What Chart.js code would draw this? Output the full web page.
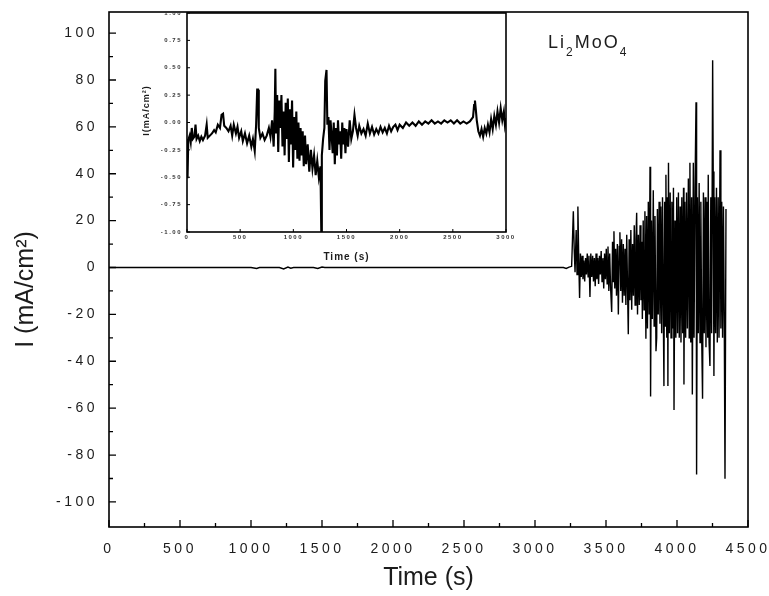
<!DOCTYPE html>
<html>
<head>
<meta charset="utf-8">
<script src="https://cdn.jsdelivr.net/npm/chart.js@4.4.1/dist/chart.umd.min.js"></script>
<style>
  html, body { margin: 0; padding: 0; background: #fff; }
  #wrap { position: relative; width: 769px; height: 596px; }
  #mainChart { position: absolute; left: 0; top: 0; }
  #insetChart { position: absolute; left: 135px; top: 5px; }
</style>
</head>
<body>
<div id="wrap">
  <canvas id="mainChart" width="769" height="596"></canvas>
  <canvas id="insetChart" width="385" height="270"></canvas>
</div>
<script>
// main trace: time (s) and current density (mA/cm2)
const mainTime = [
  0, 1000, 1040, 1060, 1200, 1230, 1260, 1280, 1300, 1440, 1470, 1500, 1520, 3200, 3220, 3240,
  3258, 3264, 3270, 3276, 3282, 3290, 3296, 3302, 3308, 3314, 3320, 3326, 3332, 3338, 3344, 3350,
  3356, 3362, 3368, 3374, 3380, 3387, 3393, 3400, 3406, 3412, 3418, 3424, 3430, 3436, 3442, 3448,
  3454, 3460, 3466, 3472, 3478, 3484, 3490, 3496, 3502, 3508, 3514, 3520, 3526, 3532, 3540, 3546,
  3552, 3556, 3562, 3568, 3574, 3580, 3587, 3593, 3598, 3604, 3610, 3616, 3622, 3628, 3634, 3640,
  3646, 3652, 3657, 3663, 3669, 3675, 3681, 3687, 3693, 3699, 3705, 3711, 3716, 3722, 3728, 3734,
  3740, 3746, 3751, 3756, 3762, 3768, 3774, 3781, 3786, 3792, 3798, 3804, 3810, 3814, 3820, 3826,
  3833, 3839, 3845, 3852, 3857, 3862, 3868, 3874, 3880, 3886, 3892, 3898, 3904, 3908, 3913, 3918,
  3922, 3928, 3932, 3936, 3940, 3946, 3952, 3958, 3964, 3970, 3975, 3979, 3986, 3992, 3998, 4004,
  4010, 4016, 4022, 4028, 4034, 4040, 4046, 4049, 4055, 4061, 4067, 4073, 4080, 4086, 4091, 4097,
  4103, 4108, 4115, 4120, 4127, 4134, 4138, 4144, 4150, 4156, 4162, 4168, 4174, 4180, 4186, 4192,
  4198, 4204, 4210, 4216, 4220, 4226, 4232, 4238, 4244, 4251, 4255, 4260, 4266, 4272, 4278, 4284,
  4290, 4296, 4303, 4309, 4315, 4321, 4327, 4333, 4338, 4345
];
const mainCurrent = [
  0, 0, -0.4, 0, 0, -0.6, 0.2, -0.3, 0, 0, -0.4, 0.2, 0, 0, -0.4, 0.2,
  0.5, 12, 24, 8, -2, 16, -3, 26, 4, -13, 6, -4, 5, -5, 3, -6,
  4, -3, 6, -4, 5, -12.6, 6, -4, 5, -6, 4, -8, 6, -5, 4, -7,
  5, -3, 7, -6, 4, -9, 6, -5, 8, -7, 9, -10, 6, -8, -19, 11,
  -6, 15.5, -9, 8, -12, 10, -20, 9, 15, -10, 12, -15, 10, -12, 8, -16,
  14, -10, -28.5, 12, -14, 16, -18, 10, -12, 18, -16, 12, 23.4, -20, 14, -16,
  18, -14, 11, -22, 20, -18, 24, -30.4, 22, -26, 28, -20, 43, -55, 20, -22,
  33, -25, 22, -35.7, -30, 25, -20, 28, -24, 26, -28, 30, -22, -50.6, 28, -25,
  39.6, -30, 30, -50.6, 44.7, -28, 32, -30, 28, -26, 34, -60.8, 20, -30, 30, -28,
  32, -30, 26, -32, 30, -28, 34, -49.9, 28, -30, 32, -26, 38, -30, 44.7, -32,
  30, -54.2, 44.7, -30, 34, 70.5, -88.3, 30, -28, 36, -32, 28, -30, -56, 32, -28,
  30, -34, 28, -30, 39.6, -32, -42, 30, -28, 88.4, 41, -46.3, 30, -28, 34, -32,
  30, -30, 50, -26, 28, -30, 26, -24, -90.1, 25
];

// inset trace (first 3000 s, zoomed current scale)
const insetTime = [
  0, 5, 12, 25, 35, 45, 55, 70, 80, 90, 105, 120, 135, 150, 170, 185,
  195, 215, 235, 255, 270, 290, 310, 325, 339, 350, 370, 390, 410, 425, 440, 460,
  475, 490, 510, 525, 545, 565, 585, 605, 620, 637, 650, 660, 668, 675, 690, 710,
  730, 750, 770, 785, 800, 815, 825, 831, 838, 848, 858, 868, 878, 888, 898, 908,
  918, 928, 938, 948, 958, 968, 978, 988, 998, 1008, 1018, 1028, 1038, 1048, 1058, 1068,
  1078, 1088, 1098, 1110, 1120, 1135, 1150, 1165, 1180, 1195, 1210, 1225, 1240, 1255, 1263, 1268,
  1280, 1292, 1300, 1312, 1320, 1330, 1340, 1350, 1360, 1370, 1380, 1390, 1400, 1410, 1420, 1430,
  1440, 1450, 1460, 1470, 1480, 1490, 1500, 1515, 1530, 1545, 1560, 1575, 1590, 1605, 1620, 1640,
  1660, 1680, 1700, 1720, 1740, 1760, 1780, 1800, 1820, 1840, 1860, 1880, 1900, 1920, 1940, 1960,
  1980, 2000, 2030, 2060, 2090, 2120, 2150, 2180, 2210, 2240, 2270, 2300, 2330, 2360, 2390, 2420,
  2450, 2480, 2510, 2540, 2570, 2600, 2630, 2660, 2690, 2700, 2708, 2716, 2725, 2740, 2755, 2770,
  2785, 2800, 2815, 2830, 2845, 2860, 2875, 2890, 2905, 2920, 2935, 2950, 2965, 2980, 2990, 3000
];
const insetCurrent = [
  -0.15, -0.51, -0.16, -0.12, -0.18, -0.05, -0.15, -0.13, -0.02, -0.15, -0.12, -0.17, -0.13, -0.16, -0.12, -0.02,
  -0.14, -0.12, -0.10, -0.07, -0.09, -0.02, -0.05, 0.07, 0.08, -0.03, -0.05, -0.08, -0.03, -0.12, -0.02, -0.10,
  -0.04, -0.14, -0.08, -0.17, -0.10, -0.19, -0.12, -0.22, -0.15, -0.26, -0.02, 0.30, 0.30, -0.05, -0.14, -0.10,
  -0.16, -0.12, -0.05, -0.13, 0.02, -0.22, 0.10, 0.49, -0.10, 0.25, -0.27, 0.20, -0.05, 0.25, -0.22, 0.10,
  -0.30, 0.18, -0.15, 0.22, -0.36, 0.12, -0.20, 0.20, -0.41, 0.05, -0.25, 0.10, -0.33, 0.00, -0.35, -0.05,
  -0.30, -0.08, -0.40, -0.12, -0.38, -0.20, -0.45, -0.25, -0.42, -0.30, -0.48, -0.35, -0.50, -0.40, -1.00, -0.30,
  -0.15, -0.05, 0.38, 0.48, -0.02, 0.05, -0.25, 0.02, -0.12, -0.28, 0.00, -0.38, -0.05, -0.30, 0.02, -0.20,
  -0.08, -0.33, 0.00, -0.20, -0.05, -0.28, -0.06, -0.22, 0.02, -0.15, -0.08, 0.07, -0.05, -0.12, -0.03, -0.10,
  -0.06, -0.12, -0.01, -0.10, -0.04, -0.11, -0.06, -0.10, -0.04, -0.09, -0.05, -0.10, -0.03, -0.08, -0.04, -0.02,
  -0.07, -0.02, -0.05, 0.00, -0.03, 0.00, -0.03, 0.01, -0.02, 0.01, -0.01, 0.02, -0.01, 0.01, -0.01, 0.02,
  0.00, 0.02, -0.01, 0.02, -0.01, 0.01, -0.01, 0.01, 0.05, 0.16, 0.20, 0.12, 0.02, -0.08, -0.12, -0.06,
  -0.13, -0.05, -0.10, -0.02, -0.09, 0.03, -0.06, 0.06, -0.02, 0.10, 0.00, 0.13, 0.02, 0.10, -0.02, 0.04
];

// tick values
const mainXTicks = [0, 500, 1000, 1500, 2000, 2500, 3000, 3500, 4000, 4500];
const mainYTicks = [-100, -80, -60, -40, -20, 0, 20, 40, 60, 80, 100];
const insetXTicks = [0, 500, 1000, 1500, 2000, 2500, 3000];
const insetYTicks = [-1, -0.75, -0.5, -0.25, 0, 0.25, 0.5, 0.75, 1];

const mainXTitle = 'Time (s)';
const mainYTitle = 'I (mA/cm²)';
const insetXTitle = 'Time (s)';
const insetYTitle = 'I(mA/cm²)';
const compound = [['Li', false], ['2', true], ['MoO', false], ['4', true]];

const ink = '#1c1c1c';

// frame, inward tick marks and letter spacing for the tick labels
const frameTicks = {
  id: 'frameTicks',
  beforeDraw(chart, args, o) {
    const { ctx, chartArea: a } = chart;
    ctx.letterSpacing = o.spacing;
    if (o.fill) {
      ctx.save();
      ctx.fillStyle = '#fff';
      ctx.fillRect(a.left, a.top, a.right - a.left, a.bottom - a.top);
      ctx.restore();
    }
  },
  afterDraw(chart, args, o) {
    const { ctx, chartArea: a, scales: { x, y } } = chart;
    ctx.save();
    ctx.letterSpacing = '0px';
    ctx.strokeStyle = '#000';
    ctx.lineWidth = o.tickWidth;
    ctx.beginPath();
    const xs = x.ticks.map(t => t.value);
    const ys = y.ticks.map(t => t.value);
    xs.forEach((v, i) => {
      const p = x.getPixelForValue(v);
      ctx.moveTo(p, a.bottom); ctx.lineTo(p, a.bottom - o.major);
      if (o.minor && i < xs.length - 1) {
        const m = x.getPixelForValue((v + xs[i + 1]) / 2);
        ctx.moveTo(m, a.bottom); ctx.lineTo(m, a.bottom - o.minor);
      }
    });
    ys.forEach((v, i) => {
      const p = y.getPixelForValue(v);
      ctx.moveTo(a.left, p); ctx.lineTo(a.left + o.major, p);
      if (o.minor && i < ys.length - 1) {
        const m = y.getPixelForValue((v + ys[i + 1]) / 2);
        ctx.moveTo(a.left, m); ctx.lineTo(a.left + o.minor, m);
      }
    });
    ctx.stroke();
    ctx.lineWidth = o.frameWidth;
    ctx.strokeRect(a.left, a.top, a.right - a.left, a.bottom - a.top);
    ctx.restore();
  }
};

// axis titles (no letter spacing)
const axisTitles = {
  id: 'axisTitles',
  afterDraw(chart, args, o) {
    const { ctx, chartArea: a } = chart;
    ctx.save();
    ctx.letterSpacing = o.spacing || '0px';
    ctx.fillStyle = ink;
    ctx.textAlign = 'center';
    ctx.textBaseline = 'middle';
    ctx.font = o.font;
    ctx.fillText(o.xText, (a.left + a.right) / 2, a.bottom + o.xGap);
    ctx.translate(a.left - o.yGap, (a.top + a.bottom) / 2 + o.yShift);
    ctx.rotate(-Math.PI / 2);
    ctx.font = o.yFont || o.font;
    ctx.fillText(o.yText, 0, 0);
    ctx.restore();
  }
};

// Li2MoO4 label with subscripts
const compoundLabel = {
  id: 'compoundLabel',
  afterDraw(chart) {
    const { ctx, chartArea: a } = chart;
    ctx.save();
    ctx.letterSpacing = '2px';
    ctx.fillStyle = ink;
    ctx.textBaseline = 'alphabetic';
    ctx.textAlign = 'left';
    let px = a.left + 439;
    const base = a.top + 36;
    compound.forEach(([s, sub]) => {
      ctx.font = sub ? '12px "Liberation Sans"' : '18px "Liberation Sans"';
      ctx.fillText(s, px, sub ? base + 8 : base);
      px += ctx.measureText(s).width;
    });
    ctx.restore();
  }
};

const fixTicks = list => scale => { scale.ticks = list.map(v => ({ value: v })); };
// fixed scale box sizes, no label overhang padding
const fixWidth = w => s => { s.width = w; s.paddingTop = 0; s.paddingBottom = 0; };
const fixHeight = h => s => { s.height = h; s.paddingLeft = 0; s.paddingRight = 0; };

new Chart(document.getElementById('mainChart'), {
  type: 'line',
  data: {
    datasets: [{
      data: mainTime.map((t, i) => ({ x: t, y: mainCurrent[i] })),
      borderColor: '#000',
      borderWidth: 1.4,
      pointRadius: 0,
      tension: 0
    }]
  },
  options: {
    responsive: false,
    animation: false,
    layout: { padding: { top: 12, right: 21, left: 0, bottom: 0 } },
    plugins: {
      legend: { display: false },
      tooltip: { enabled: false },
      frameTicks: { spacing: '3.5px', fill: false, major: 7, minor: 4, tickWidth: 1.3, frameWidth: 1.6 },
      axisTitles: { font: '25px "Liberation Sans"', xText: mainXTitle, yText: mainYTitle, xGap: 51, yGap: 83, yShift: 20 }
    },
    scales: {
      x: {
        type: 'linear', min: 0, max: 4500,
        afterBuildTicks: fixTicks(mainXTicks),
        afterFit: fixHeight(69),
        grid: { display: false, drawTicks: false }, border: { display: false },
        ticks: { autoSkip: false, maxRotation: 0, padding: 14,
                 color: ink, font: { family: 'Liberation Sans', size: 14 }, callback: v => String(v) }
      },
      y: {
        type: 'linear', min: -110.7, max: 109,
        afterBuildTicks: fixTicks(mainYTicks),
        afterFit: fixWidth(109),
        grid: { display: false, drawTicks: false }, border: { display: false },
        ticks: { autoSkip: false, padding: 11,
                 color: ink, font: { family: 'Liberation Sans', size: 14 }, callback: v => String(v) }
      }
    }
  },
  plugins: [frameTicks, axisTitles, compoundLabel]
});

new Chart(document.getElementById('insetChart'), {
  type: 'line',
  data: {
    datasets: [{
      data: insetTime.map((t, i) => ({ x: t, y: insetCurrent[i] })),
      borderColor: '#000',
      borderWidth: 2.1,
      pointRadius: 0,
      tension: 0
    }]
  },
  options: {
    responsive: false,
    animation: false,
    layout: { padding: { top: 8, right: 14, left: 0, bottom: 0 } },
    plugins: {
      legend: { display: false },
      tooltip: { enabled: false },
      frameTicks: { spacing: '1.5px', fill: true, major: 3, minor: 0, tickWidth: 1, frameWidth: 1.6 },
      axisTitles: { font: 'bold 10px "Liberation Sans"', yFont: 'bold 9px "Liberation Sans"', spacing: '1px',
                    xText: insetXTitle, yText: insetYTitle, xGap: 25, yGap: 40, yShift: -12 }
    },
    scales: {
      x: {
        type: 'linear', min: 0, max: 3000,
        afterBuildTicks: fixTicks(insetXTicks),
        afterFit: fixHeight(43),
        grid: { display: false, drawTicks: false }, border: { display: false },
        ticks: { autoSkip: false, maxRotation: 0, padding: 2,
                 color: '#333', font: { family: 'Liberation Sans', size: 6, weight: 'bold' }, callback: v => String(v) }
      },
      y: {
        type: 'linear', min: -1, max: 1,
        afterBuildTicks: fixTicks(insetYTicks),
        afterFit: fixWidth(52),
        grid: { display: false, drawTicks: false }, border: { display: false },
        ticks: { autoSkip: false, padding: 5,
                 color: '#333', font: { family: 'Liberation Sans', size: 6, weight: 'bold' }, callback: v => v.toFixed(2) }
      }
    }
  },
  plugins: [frameTicks, axisTitles]
});
</script>
</body>
</html>
